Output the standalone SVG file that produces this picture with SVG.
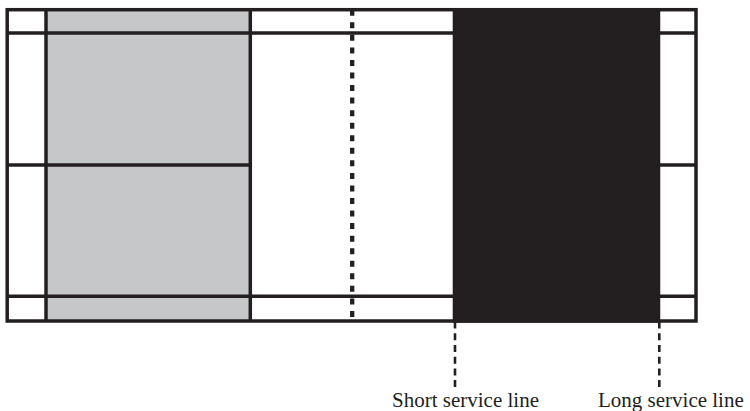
<svg xmlns="http://www.w3.org/2000/svg" width="750" height="411" viewBox="0 0 750 411">
  <style>
    .ln { stroke: #231f20; stroke-width: 3.5; fill: none; }
    .net { stroke: #231f20; stroke-width: 4.3; fill: none; stroke-dasharray: 6 6.55; }
    .lead { stroke: #231f20; stroke-width: 2.6; fill: none; stroke-dasharray: 7 4.7; }
    .lbl { font-family: "Liberation Serif", "Times New Roman", serif; font-size: 21px; fill: #231f20; }
  </style>
  <rect width="750" height="411" fill="#ffffff"/>
  <g id="court">
    <rect id="grey-zone" x="46" y="9.7" width="204" height="311.3" fill="#c6c7c9"/>
    <rect id="outer" class="ln" x="7.2" y="9.7" width="688.8" height="311.3"/>
    <line class="ln" x1="7.2" y1="33" x2="696" y2="33"/>
    <line class="ln" x1="7.2" y1="296.3" x2="696" y2="296.3"/>
    <line class="ln" x1="46" y1="9.7" x2="46" y2="321"/>
    <line class="ln" x1="250.3" y1="9.7" x2="250.3" y2="321"/>
    <line class="ln" x1="7.2" y1="165" x2="250.3" y2="165"/>
    <line class="ln" x1="453" y1="165" x2="696" y2="165"/>
    <line class="ln" x1="658.5" y1="9.7" x2="658.5" y2="321"/>
    <rect id="black-zone" x="452.7" y="8" width="207.3" height="314.7" fill="#231f20"/>
  </g>
  <g id="connectors">
    <line id="net" class="net" x1="352.2" y1="9.75" x2="352.2" y2="321"/>
    <line class="lead" x1="455" y1="321.6" x2="455" y2="388"/>
    <line class="lead" x1="659.3" y1="321.6" x2="659.3" y2="388"/>
  </g>
  <g id="label-short">
    <text class="lbl" x="392" y="406.5">Short service line</text>
  </g>
  <g id="label-long">
    <text class="lbl" x="598" y="406.5">Long service line</text>
  </g>
</svg>
